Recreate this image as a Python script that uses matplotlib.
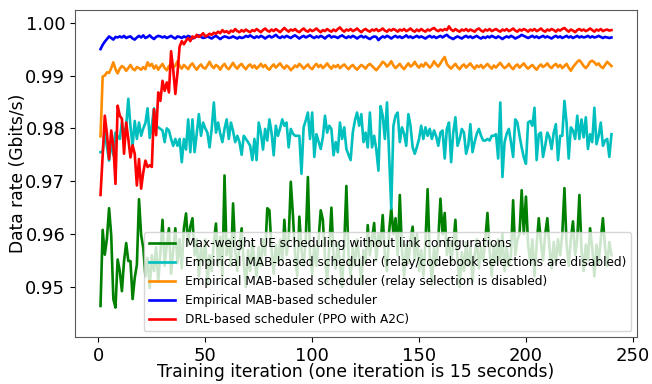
import matplotlib
matplotlib.use('Agg')
import matplotlib.pyplot as plt

# training iterations (one point per iteration)
iterations = list(range(1, 241))

# Max-weight UE scheduling without link configurations
maxweight = [
    0.9464, 0.9608, 0.9561, 0.9592, 0.9649, 0.9598, 0.9477, 0.9461, 0.9552, 0.9530,
    0.9492, 0.9549, 0.9583, 0.9549, 0.9549, 0.9477, 0.9517, 0.9542, 0.9666, 0.9598,
    0.9574, 0.9520, 0.9555, 0.9498, 0.9560, 0.9530, 0.9575, 0.9510, 0.9565, 0.9627,
    0.9540, 0.9580, 0.9611, 0.9525, 0.9570, 0.9611, 0.9545, 0.9590, 0.9535, 0.9611,
    0.9639, 0.9580, 0.9614, 0.9630, 0.9560, 0.9590, 0.9520, 0.9575, 0.9548, 0.9590,
    0.9505, 0.9560, 0.9530, 0.9585, 0.9620, 0.9540, 0.9595, 0.9520, 0.9711, 0.9560,
    0.9590, 0.9540, 0.9658, 0.9570, 0.9530, 0.9580, 0.9611, 0.9545, 0.9500, 0.9570,
    0.9530, 0.9585, 0.9550, 0.9520, 0.9575, 0.9540, 0.9590, 0.9560, 0.9649, 0.9645,
    0.9570, 0.9525, 0.9580, 0.9545, 0.9590, 0.9550, 0.9627, 0.9560, 0.9590, 0.9699,
    0.9636, 0.9560, 0.9520, 0.9633, 0.9570, 0.9540, 0.9590, 0.9708, 0.9560, 0.9525,
    0.9580, 0.9540, 0.9590, 0.9645, 0.9627, 0.9555, 0.9510, 0.9575, 0.9650, 0.9560,
    0.9535, 0.9585, 0.9545, 0.9500, 0.9580, 0.9691, 0.9560, 0.9520, 0.9575, 0.9540,
    0.9590, 0.9555, 0.9505, 0.9570, 0.9545, 0.9617, 0.9560, 0.9590, 0.9621, 0.9550,
    0.9600, 0.9580, 0.9636, 0.9560, 0.9530, 0.9605, 0.9649, 0.9600, 0.9630, 0.9560,
    0.9674, 0.9570, 0.9520, 0.9580, 0.9545, 0.9590, 0.9614, 0.9550, 0.9600, 0.9530,
    0.9570, 0.9520, 0.9585, 0.9685, 0.9560, 0.9505, 0.9575, 0.9540, 0.9590, 0.9667,
    0.9600, 0.9640, 0.9560, 0.9590, 0.9545, 0.9580, 0.9627, 0.9550, 0.9500, 0.9565,
    0.9530, 0.9585, 0.9540, 0.9575, 0.9510, 0.9560, 0.9590, 0.9535, 0.9575, 0.9550,
    0.9590, 0.9640, 0.9570, 0.9520, 0.9580, 0.9545, 0.9590, 0.9550, 0.9600, 0.9530,
    0.9575, 0.9540, 0.9560, 0.9664, 0.9560, 0.9590, 0.9600, 0.9683, 0.9600, 0.9671,
    0.9580, 0.9545, 0.9590, 0.9520, 0.9580, 0.9630, 0.9585, 0.9550, 0.9600, 0.9630,
    0.9575, 0.9535, 0.9585, 0.9545, 0.9590, 0.9560, 0.9600, 0.9687, 0.9580, 0.9540,
    0.9590, 0.9624, 0.9560, 0.9590, 0.9674, 0.9570, 0.9530, 0.9580, 0.9550, 0.9611,
    0.9575, 0.9520, 0.9580, 0.9545, 0.9590, 0.9630, 0.9575, 0.9540, 0.9585, 0.9560,
]

# Empirical MAB-based scheduler (relay/codebook selections are disabled)
mab_no_relay_codebook = [
    0.9755, 0.9755, 0.9792, 0.9765, 0.9739, 0.9777, 0.9749, 0.9792, 0.9785, 0.9780,
    0.9811, 0.9785, 0.9804, 0.9856, 0.9804, 0.9767, 0.9814, 0.9780, 0.9811, 0.9786,
    0.9800, 0.9810, 0.9838, 0.9782, 0.9805, 0.9838, 0.9805, 0.9802, 0.9799, 0.9796,
    0.9774, 0.9800, 0.9796, 0.9780, 0.9767, 0.9780, 0.9767, 0.9780, 0.9736, 0.9780,
    0.9760, 0.9817, 0.9755, 0.9817, 0.9755, 0.9790, 0.9827, 0.9786, 0.9811, 0.9800,
    0.9792, 0.9764, 0.9799, 0.9849, 0.9792, 0.9811, 0.9790, 0.9774, 0.9799, 0.9817,
    0.9780, 0.9811, 0.9795, 0.9774, 0.9786, 0.9774, 0.9750, 0.9786, 0.9780, 0.9774,
    0.9767, 0.9740, 0.9780, 0.9740, 0.9811, 0.9792, 0.9760, 0.9799, 0.9777, 0.9817,
    0.9792, 0.9749, 0.9805, 0.9786, 0.9800, 0.9817, 0.9805, 0.9811, 0.9764, 0.9799,
    0.9790, 0.9786, 0.9786, 0.9786, 0.9714, 0.9802, 0.9815, 0.9830, 0.9780, 0.9830,
    0.9746, 0.9789, 0.9775, 0.9761, 0.9783, 0.9824, 0.9792, 0.9805, 0.9799, 0.9749,
    0.9774, 0.9755, 0.9811, 0.9780, 0.9802, 0.9761, 0.9750, 0.9740, 0.9792, 0.9815,
    0.9830, 0.9805, 0.9827, 0.9774, 0.9792, 0.9764, 0.9830, 0.9764, 0.9786, 0.9760,
    0.9720, 0.9842, 0.9824, 0.9780, 0.9849, 0.9749, 0.9648, 0.9805, 0.9824, 0.9830,
    0.9774, 0.9802, 0.9790, 0.9767, 0.9827, 0.9805, 0.9764, 0.9752, 0.9765, 0.9780,
    0.9805, 0.9780, 0.9802, 0.9786, 0.9799, 0.9780, 0.9796, 0.9785, 0.9767, 0.9792,
    0.9796, 0.9743, 0.9799, 0.9811, 0.9736, 0.9792, 0.9821, 0.9767, 0.9780, 0.9799,
    0.9792, 0.9752, 0.9767, 0.9808, 0.9755, 0.9774, 0.9790, 0.9799, 0.9786, 0.9777,
    0.9777, 0.9780, 0.9777, 0.9786, 0.9786, 0.9789, 0.9743, 0.9849, 0.9708, 0.9774,
    0.9790, 0.9799, 0.9774, 0.9746, 0.9817, 0.9811, 0.9786, 0.9764, 0.9745, 0.9733,
    0.9811, 0.9814, 0.9805, 0.9839, 0.9740, 0.9789, 0.9792, 0.9746, 0.9767, 0.9792,
    0.9783, 0.9761, 0.9792, 0.9808, 0.9740, 0.9786, 0.9786, 0.9852, 0.9811, 0.9743,
    0.9802, 0.9796, 0.9780, 0.9824, 0.9780, 0.9817, 0.9783, 0.9821, 0.9761, 0.9789,
    0.9774, 0.9839, 0.9770, 0.9786, 0.9811, 0.9767, 0.9777, 0.9780, 0.9746, 0.9789,
]

# Empirical MAB-based scheduler (relay selection is disabled)
mab_no_relay = [
    0.9785, 0.9898, 0.9900, 0.9906, 0.9905, 0.9914, 0.9925, 0.9912, 0.9904, 0.9913,
    0.9918, 0.9915, 0.9909, 0.9914, 0.9920, 0.9913, 0.9910, 0.9916, 0.9914, 0.9911,
    0.9916, 0.9912, 0.9925, 0.9918, 0.9922, 0.9913, 0.9919, 0.9911, 0.9917, 0.9922,
    0.9914, 0.9910, 0.9918, 0.9921, 0.9915, 0.9919, 0.9927, 0.9918, 0.9913, 0.9920,
    0.9916, 0.9912, 0.9919, 0.9923, 0.9916, 0.9911, 0.9917, 0.9921, 0.9915, 0.9913,
    0.9919, 0.9926, 0.9918, 0.9914, 0.9920, 0.9917, 0.9911, 0.9918, 0.9922, 0.9915,
    0.9912, 0.9918, 0.9924, 0.9917, 0.9913, 0.9919, 0.9922, 0.9916, 0.9912, 0.9918,
    0.9921, 0.9915, 0.9919, 0.9913, 0.9917, 0.9922, 0.9916, 0.9920, 0.9914, 0.9911,
    0.9917, 0.9921, 0.9915, 0.9919, 0.9923, 0.9917, 0.9913, 0.9919, 0.9916, 0.9910,
    0.9914, 0.9919, 0.9916, 0.9922, 0.9918, 0.9913, 0.9917, 0.9921, 0.9915, 0.9912,
    0.9918, 0.9922, 0.9916, 0.9920, 0.9914, 0.9918, 0.9923, 0.9917, 0.9913, 0.9919,
    0.9916, 0.9920, 0.9914, 0.9918, 0.9921, 0.9916, 0.9912, 0.9917, 0.9920, 0.9915,
    0.9911, 0.9916, 0.9920, 0.9917, 0.9913, 0.9919, 0.9922, 0.9918, 0.9914, 0.9910,
    0.9915, 0.9920, 0.9926, 0.9923, 0.9917, 0.9921, 0.9927, 0.9919, 0.9914, 0.9918,
    0.9922, 0.9916, 0.9912, 0.9918, 0.9923, 0.9917, 0.9920, 0.9926, 0.9919, 0.9915,
    0.9921, 0.9917, 0.9924, 0.9920, 0.9915, 0.9919, 0.9927, 0.9921, 0.9917, 0.9923,
    0.9930, 0.9935, 0.9922, 0.9917, 0.9913, 0.9918, 0.9922, 0.9916, 0.9912, 0.9918,
    0.9921, 0.9915, 0.9919, 0.9923, 0.9917, 0.9913, 0.9919, 0.9916, 0.9920, 0.9914,
    0.9918, 0.9922, 0.9917, 0.9913, 0.9919, 0.9915, 0.9920, 0.9924, 0.9918, 0.9914,
    0.9917, 0.9922, 0.9916, 0.9912, 0.9918, 0.9921, 0.9915, 0.9919, 0.9923, 0.9917,
    0.9913, 0.9917, 0.9920, 0.9915, 0.9911, 0.9917, 0.9921, 0.9916, 0.9919, 0.9923,
    0.9917, 0.9914, 0.9919, 0.9922, 0.9916, 0.9920, 0.9914, 0.9918, 0.9922, 0.9915,
    0.9909, 0.9916, 0.9921, 0.9926, 0.9929, 0.9924, 0.9918, 0.9914, 0.9919, 0.9926,
    0.9928, 0.9925, 0.9920, 0.9923, 0.9917, 0.9914, 0.9920, 0.9926, 0.9922, 0.9918,
]

# Empirical MAB-based scheduler
mab_full = [
    0.9950, 0.9958, 0.9964, 0.9969, 0.9974, 0.9971, 0.9968, 0.9973, 0.9972, 0.9974,
    0.9972, 0.9975, 0.9971, 0.9973, 0.9974, 0.9970, 0.9968, 0.9972, 0.9975, 0.9972,
    0.9976, 0.9971, 0.9973, 0.9976, 0.9972, 0.9969, 0.9973, 0.9975, 0.9974, 0.9972,
    0.9974, 0.9971, 0.9973, 0.9975, 0.9972, 0.9970, 0.9974, 0.9973, 0.9971, 0.9974,
    0.9972, 0.9975, 0.9973, 0.9970, 0.9972, 0.9974, 0.9976, 0.9973, 0.9971, 0.9972,
    0.9974, 0.9972, 0.9970, 0.9973, 0.9975, 0.9972, 0.9969, 0.9972, 0.9974, 0.9973,
    0.9971, 0.9972, 0.9974, 0.9972, 0.9970, 0.9973, 0.9971, 0.9972, 0.9975, 0.9973,
    0.9976, 0.9973, 0.9971, 0.9974, 0.9972, 0.9975, 0.9973, 0.9970, 0.9973, 0.9975,
    0.9972, 0.9974, 0.9977, 0.9973, 0.9971, 0.9974, 0.9972, 0.9975, 0.9973, 0.9971,
    0.9974, 0.9976, 0.9973, 0.9970, 0.9973, 0.9975, 0.9972, 0.9974, 0.9976, 0.9973,
    0.9971, 0.9974, 0.9972, 0.9975, 0.9973, 0.9970, 0.9974, 0.9976, 0.9972, 0.9974,
    0.9973, 0.9971, 0.9974, 0.9976, 0.9973, 0.9971, 0.9974, 0.9972, 0.9975, 0.9973,
    0.9970, 0.9973, 0.9975, 0.9972, 0.9974, 0.9971, 0.9969, 0.9972, 0.9974, 0.9973,
    0.9967, 0.9971, 0.9974, 0.9972, 0.9975, 0.9973, 0.9970, 0.9973, 0.9975, 0.9972,
    0.9974, 0.9971, 0.9973, 0.9976, 0.9972, 0.9974, 0.9971, 0.9973, 0.9975, 0.9972,
    0.9974, 0.9972, 0.9970, 0.9973, 0.9975, 0.9972, 0.9974, 0.9971, 0.9973, 0.9975,
    0.9972, 0.9975, 0.9977, 0.9973, 0.9971, 0.9969, 0.9972, 0.9974, 0.9972, 0.9970,
    0.9973, 0.9975, 0.9972, 0.9974, 0.9971, 0.9973, 0.9975, 0.9972, 0.9970, 0.9973,
    0.9971, 0.9974, 0.9972, 0.9975, 0.9973, 0.9971, 0.9974, 0.9972, 0.9969, 0.9972,
    0.9974, 0.9972, 0.9975, 0.9973, 0.9970, 0.9972, 0.9974, 0.9977, 0.9975, 0.9973,
    0.9971, 0.9973, 0.9975, 0.9972, 0.9974, 0.9971, 0.9973, 0.9975, 0.9972, 0.9974,
    0.9972, 0.9970, 0.9973, 0.9975, 0.9972, 0.9974, 0.9971, 0.9973, 0.9975, 0.9972,
    0.9974, 0.9971, 0.9973, 0.9975, 0.9972, 0.9974, 0.9972, 0.9973, 0.9975, 0.9972,
    0.9974, 0.9972, 0.9973, 0.9975, 0.9973, 0.9971, 0.9973, 0.9972, 0.9971, 0.9972,
]

# DRL-based scheduler (PPO with A2C)
drl_ppo = [
    0.9674, 0.9750, 0.9824, 0.9790, 0.9742, 0.9796, 0.9768, 0.9695, 0.9843, 0.9824,
    0.9818, 0.9752, 0.9811, 0.9780, 0.9745, 0.9768, 0.9752, 0.9692, 0.9742, 0.9686,
    0.9717, 0.9739, 0.9727, 0.9730, 0.9727, 0.9836, 0.9787, 0.9868, 0.9852, 0.9890,
    0.9871, 0.9887, 0.9868, 0.9946, 0.9911, 0.9865, 0.9905, 0.9955, 0.9965, 0.9959,
    0.9966, 0.9971, 0.9965, 0.9974, 0.9971, 0.9977, 0.9973, 0.9976, 0.9980, 0.9974,
    0.9976, 0.9979, 0.9977, 0.9981, 0.9979, 0.9983, 0.9980, 0.9986, 0.9982, 0.9984,
    0.9980, 0.9985, 0.9983, 0.9988, 0.9984, 0.9982, 0.9986, 0.9983, 0.9987, 0.9984,
    0.9982, 0.9986, 0.9984, 0.9988, 0.9985, 0.9982, 0.9986, 0.9989, 0.9985, 0.9983,
    0.9987, 0.9984, 0.9988, 0.9985, 0.9982, 0.9986, 0.9990, 0.9986, 0.9983, 0.9987,
    0.9985, 0.9988, 0.9984, 0.9982, 0.9986, 0.9989, 0.9985, 0.9983, 0.9987, 0.9984,
    0.9986, 0.9989, 0.9985, 0.9982, 0.9986, 0.9984, 0.9988, 0.9985, 0.9983, 0.9987,
    0.9984, 0.9988, 0.9991, 0.9986, 0.9983, 0.9987, 0.9985, 0.9988, 0.9984, 0.9986,
    0.9989, 0.9985, 0.9982, 0.9986, 0.9988, 0.9985, 0.9983, 0.9987, 0.9985, 0.9988,
    0.9984, 0.9986, 0.9989, 0.9985, 0.9983, 0.9987, 0.9985, 0.9988, 0.9986, 0.9983,
    0.9987, 0.9985, 0.9988, 0.9984, 0.9986, 0.9989, 0.9985, 0.9983, 0.9987, 0.9984,
    0.9988, 0.9985, 0.9983, 0.9987, 0.9985, 0.9988, 0.9990, 0.9986, 0.9984, 0.9987,
    0.9985, 0.9988, 0.9986, 0.9993, 0.9987, 0.9984, 0.9988, 0.9985, 0.9983, 0.9987,
    0.9985, 0.9988, 0.9984, 0.9987, 0.9985, 0.9983, 0.9987, 0.9989, 0.9985, 0.9983,
    0.9987, 0.9985, 0.9988, 0.9984, 0.9986, 0.9988, 0.9985, 0.9983, 0.9987, 0.9985,
    0.9988, 0.9984, 0.9986, 0.9989, 0.9985, 0.9983, 0.9987, 0.9985, 0.9988, 0.9986,
    0.9983, 0.9987, 0.9985, 0.9988, 0.9984, 0.9986, 0.9989, 0.9985, 0.9983, 0.9987,
    0.9985, 0.9988, 0.9986, 0.9983, 0.9987, 0.9985, 0.9988, 0.9990, 0.9986, 0.9983,
    0.9987, 0.9985, 0.9982, 0.9986, 0.9988, 0.9985, 0.9987, 0.9984, 0.9986, 0.9989,
    0.9986, 0.9983, 0.9987, 0.9985, 0.9988, 0.9984, 0.9986, 0.9987, 0.9985, 0.9986,
]

yticks = [0.95, 0.96, 0.97, 0.98, 0.99, 1.00]
xticks = [0, 50, 100, 150, 200, 250]

fig = plt.figure(figsize=(6.52, 3.84), dpi=100)
ax = fig.add_axes([0.115, 0.122, 0.862, 0.852])

lw = 1.9
ax.plot(iterations, maxweight, color='g', linewidth=lw,
        label='Max-weight UE scheduling without link configurations')
ax.plot(iterations, mab_no_relay_codebook, color='c', linewidth=lw,
        label='Empirical MAB-based scheduler (relay/codebook selections are disabled)')
ax.plot(iterations, mab_no_relay, color='darkorange', linewidth=lw,
        label='Empirical MAB-based scheduler (relay selection is disabled)')
ax.plot(iterations, mab_full, color='b', linewidth=lw,
        label='Empirical MAB-based scheduler')
ax.plot(iterations, drl_ppo, color='r', linewidth=lw,
        label='DRL-based scheduler (PPO with A2C)')

ax.set_ylim(0.9405, 1.0024)
ax.set_yticks(yticks)
ax.set_xticks(xticks)
ax.tick_params(labelsize=13)
ax.set_xlabel('Training iteration (one iteration is 15 seconds)', fontsize=12.3, labelpad=-1)
ax.set_ylabel('Data rate (Gbits/s)', fontsize=12.3, labelpad=-1)
for s in ax.spines.values():
    s.set_color('0.35')

ax.legend(loc='lower right', fontsize=8.7, handlelength=2.2)

fig.savefig('out.png', dpi=100)
